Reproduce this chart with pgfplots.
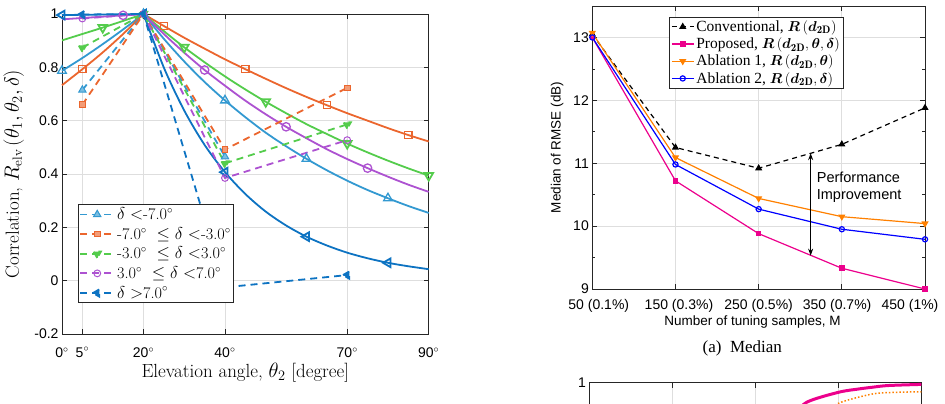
\documentclass[border=0pt]{standalone}
\usepackage{fontspec}
\setsansfont{Liberation Sans}
\newfontfamily\timesfont{Liberation Serif}
\usepackage{bm}
\usepackage{pgfplots}
\pgfplotsset{compat=1.18}
\usetikzlibrary{arrows.meta}

\definecolor{cLB}{rgb}{0.20,0.60,0.82}
\definecolor{cOR}{rgb}{0.92,0.40,0.18}
\definecolor{cGR}{rgb}{0.33,0.80,0.30}
\definecolor{cPU}{rgb}{0.68,0.32,0.82}
\definecolor{cDB}{rgb}{0.05,0.45,0.76}
\definecolor{axgray}{rgb}{0.15,0.15,0.15}
\definecolor{gridgray}{rgb}{0.87,0.87,0.87}
\definecolor{abl1}{rgb}{1,0.5,0}

\pgfplotsset{
  mlab/.style={
    scale only axis,
    axis line style={draw=axgray, line width=0.9bp},
    tick style={draw=axgray, line width=0.7bp},
    major tick length=5bp, minor tick length=3bp,
    tick align=inside, tick pos=both,
    xticklabel pos=lower, yticklabel pos=left,
    grid=major,
    major grid style={draw=gridgray, line width=0.7bp},
    tick label style={font=\fontsize{14bp}{16bp}\selectfont\sffamily},
    /pgf/number format/assume math mode=true,
  },
  % model curves: solid, open markers
  fitc/.style={color=#1, line width=1.8bp, smooth, solid,
    mark options={solid, line width=1.3bp}},
  % measured points: dashed, filled markers
  meas/.style={color=#1, line width=1.8bp, dash pattern=on 7bp off 5bp,
    mark options={solid, line width=1bp, fill=#1!65!white}},
}

\begin{document}
\begin{tikzpicture}[x=1bp,y=1bp]
\path[use as bounding box] (0,0) rectangle (945,403);
\clip (0,0) rectangle (945,403);

% ---------------- correlation vs elevation angle ----------------
\begin{axis}[mlab,
  at={(62bp,389bp)}, anchor=north west,
  width=366.7bp, height=320bp,
  xmin=0, xmax=90, ymin=-0.2, ymax=1,
  xtick={0,5,20,40,70,90},
  xticklabels={0$^\circ$,5$^\circ$,20$^\circ$,40$^\circ$,70$^\circ$,90$^\circ$},
  xticklabel style={yshift=-10bp},
  ytick={-0.2,0,0.2,0.4,0.6,0.8,1},
  yticklabels={-0.2,0,0.2,0.4,0.6,0.8,1},
  clip=false,
  xlabel={Elevation angle, $\theta_2$ [degree]},
  ylabel={Correlation, $R_{\mathrm{elv}}\,(\theta_1,\theta_2,\delta)$},
  label style={font=\fontsize{19bp}{22bp}\selectfont},
  xlabel style={at={(axis description cs:0.5,-0.122)}, anchor=center},
  ylabel style={at={(axis description cs:-0.132,0.5)}, anchor=center},
  legend style={at={(axis description cs:0.0436,0.405)}, anchor=north west,
    draw=axgray, line width=0.7bp, fill=white,
    font=\fontsize{16.2bp}{19bp}\selectfont, cells={anchor=west},
    inner sep=1bp, row sep=2.2bp},
  legend image code/.code={\draw[mark repeat=2,mark phase=2]
    plot coordinates {(0bp,0bp) (17bp,0bp) (34bp,0bp)};},
]
% model curves, below the peak angle
\addplot[fitc=cLB, mark=triangle, mark size=5bp, mark indices={1}, forget plot]
  coordinates {(0,0.787)(5,0.835)(10,0.887)(15,0.942)(20,1)};
\addplot[fitc=cOR, mark=square, mark size=3.6bp, mark indices={2}, forget plot]
  coordinates {(0,0.733)(5,0.793)(10,0.856)(15,0.925)(20,1)};
\addplot[fitc=cGR, mark=triangle, mark size=5bp, mark options={rotate=180}, mark indices={3}, forget plot]
  coordinates {(0,0.901)(5,0.925)(10,0.949)(15,0.974)(20,1)};
\addplot[fitc=cPU, mark=o, mark size=4.2bp, mark indices={4}, forget plot]
  coordinates {(0,0.980)(5,0.985)(10,0.990)(15,0.995)(20,1)};
\addplot[fitc=cDB, mark=triangle, mark size=5bp, mark options={rotate=90}, mark indices={1}, forget plot]
  coordinates {(0,0.996)(5,0.997)(10,0.998)(15,0.999)(20,1)};
% model curves, above the peak angle
\addplot[fitc=cLB, mark=triangle, mark size=5bp, mark indices={1,5,9,13}, forget plot]
  coordinates {(20,1)(25,0.907)(30,0.822)(35,0.745)(40,0.676)(45,0.613)(50,0.555)(55,0.504)
  (60,0.457)(65,0.414)(70,0.375)(75,0.340)(80,0.309)(85,0.280)(90,0.254)};
\addplot[fitc=cOR, mark=square, mark size=3.6bp, mark indices={2,6,10,14}, forget plot]
  coordinates {(20,1)(25,0.955)(30,0.911)(35,0.870)(40,0.830)(45,0.793)(50,0.757)(55,0.722)
  (60,0.689)(65,0.658)(70,0.628)(75,0.600)(80,0.572)(85,0.546)(90,0.522)};
\addplot[fitc=cGR, mark=triangle, mark size=5bp, mark options={rotate=180}, mark indices={3,7,11,15}, forget plot]
  coordinates {(20,1)(25,0.936)(30,0.875)(35,0.819)(40,0.766)(45,0.717)(50,0.671)(55,0.628)
  (60,0.587)(65,0.550)(70,0.514)(75,0.481)(80,0.450)(85,0.421)(90,0.394)};
\addplot[fitc=cPU, mark=o, mark size=4.2bp, mark indices={4,8,12}, forget plot]
  coordinates {(20,1)(25,0.925)(30,0.855)(35,0.790)(40,0.731)(45,0.675)(50,0.624)(55,0.577)
  (60,0.534)(65,0.493)(70,0.456)(75,0.422)(80,0.390)(85,0.360)(90,0.333)};
\addplot[fitc=cDB, mark=triangle, mark size=5bp, mark options={rotate=90}, mark indices={1,5,9,13}, forget plot]
  coordinates {(20,1)(25,0.799)(30,0.638)(35,0.509)(40,0.407)(45,0.325)(50,0.259)(55,0.207)
  (60,0.165)(65,0.132)(70,0.105)(75,0.084)(80,0.067)(85,0.054)(90,0.043)};
% measured correlation
\addplot[meas=cLB, mark=triangle*, mark size=4.2bp]
  coordinates {(5,0.715)(20,1)(40,0.465)};
\addlegendentry{$\delta$ $<$-7.0$^\circ$}
\addplot[meas=cOR, mark=square*, mark size=2.8bp]
  coordinates {(5,0.660)(20,1)(40,0.492)(70,0.723)};
\addlegendentry{-7.0$^\circ$ \ $\leq$ $\delta$ $<$-3.0$^\circ$}
\addplot[meas=cGR, mark=triangle*, mark size=4.2bp, mark options={rotate=180}]
  coordinates {(5,0.874)(20,1)(40,0.440)(70,0.586)};
\addlegendentry{-3.0$^\circ$ \ $\leq$ $\delta$ $<$3.0$^\circ$}
\addplot[meas=cPU, mark=o, mark size=3.4bp]
  coordinates {(5,0.983)(20,1)(40,0.385)(70,0.527)};
\addlegendentry{3.0$^\circ$ \ $\leq$ $\delta$ $<$7.0$^\circ$}
\addplot[meas=cDB, mark=triangle*, mark size=4.2bp, mark options={rotate=90}]
  coordinates {(5,0.998)(20,1)(40,-0.025)(70,0.021)};
\addlegendentry{$\delta$ $>$7.0$^\circ$}
\end{axis}

% ---------------- median RMSE vs tuning samples ----------------
\begin{axis}[mlab,
  at={(592.3bp,397bp)}, anchor=north west,
  width=332.7bp, height=283bp,
  xmin=50, xmax=450, ymin=9, ymax=13.5,
  xtick={50,150,250,350,450},
  xticklabels={\hspace*{13bp}50 (0.1\%),\hspace*{7bp}150 (0.3\%),250 (0.5\%),
    350 (0.7\%)\hspace*{9.4bp},450 (1\%)\hspace*{30bp}},
  xticklabel style={yshift=-6.5bp},
  ytick={9,10,11,12,13}, yticklabels={9,10,11,12,13},
  minor ytick={9.5,10.5,11.5,12.5},
  clip=false,
  xlabel={Number of tuning samples, M},
  ylabel={Median of RMSE (dB)},
  label style={font=\fontsize{13.5bp}{16bp}\selectfont\sffamily},
  xlabel style={at={(axis description cs:0.4815,-0.1155)}, anchor=center},
  ylabel style={at={(axis description cs:-0.106,0.5)}, anchor=center},
  legend style={at={(axis description cs:0.2314,0.962)}, anchor=north west,
    draw=axgray, line width=0.7bp, fill=white,
    font=\fontsize{15.5bp}{17bp}\timesfont, cells={anchor=west},
    inner sep=1.5bp, row sep=1bp},
  legend image code/.code={\draw[mark repeat=2,mark phase=2]
    plot coordinates {(0bp,0bp) (11bp,0bp) (22bp,0bp)};},
]
\addplot[black, line width=1.2bp, dash pattern=on 5bp off 4bp, mark=triangle*, mark size=3bp, mark options={solid}]
  coordinates {(50,13.05)(150,11.25)(250,10.92)(350,11.30)(450,11.88)};
\addlegendentry{Conventional, $\bm{R}\,(\bm{d}_{\mathbf{2D}})$}
\addplot[magenta, line width=1.2bp, mark=square*, mark size=2.2bp]
  coordinates {(50,13.0)(150,10.72)(250,9.88)(350,9.33)(450,9.0)};
\addlegendentry{Proposed, $\bm{R}\,(\bm{d}_{\mathbf{2D}},\bm{\theta},\bm{\delta})$}
\addplot[abl1, line width=1.2bp, mark=triangle*, mark size=3bp, mark options={rotate=180}]
  coordinates {(50,13.07)(150,11.09)(250,10.44)(350,10.15)(450,10.04)};
\addlegendentry{Ablation 1, $\bm{R}\,(\bm{d}_{\mathbf{2D}},\bm{\theta})$}
\addplot[blue, line width=1.2bp, mark=o, mark size=2.6bp]
  coordinates {(50,13.0)(150,10.98)(250,10.27)(350,9.95)(450,9.79)};
\addlegendentry{Ablation 2, $\bm{R}\,(\bm{d}_{\mathbf{2D}},\bm{\delta})$}
\draw[{Stealth[length=7bp,width=5bp]}-{Stealth[length=7bp,width=5bp]}, line width=1.2bp]
  (axis cs:312.5,9.53) -- (axis cs:312.5,11.16);
\node[anchor=west, align=left, inner sep=0pt,
  font=\fontsize{14.5bp}{17bp}\selectfont\sffamily] at (axis cs:319.7,10.625)
  {Performance\\Improvement};
\end{axis}

\node[font=\fontsize{17bp}{20bp}\timesfont] at (742.3,54.7) {(a)\ \ Median};

% ---------------- next panel (top edge) ----------------
\begin{axis}[mlab,
  at={(589.3bp,20.3bp)}, anchor=north west,
  width=332bp, height=283bp,
  xmin=0, xmax=4, ymin=0, ymax=1,
  xtick={0,1,2,3,4}, xticklabels={},
  ytick={0,0.2,0.4,0.6,0.8,1}, yticklabels={,,,,,1},
]
\addplot[magenta, line width=3bp, smooth]
  coordinates {(2.45,0.88)(2.62,0.931)(3.0,0.966)(3.25,0.978)(3.41,0.984)(3.6,0.99)(4,0.994)};
\addplot[abl1, line width=1.5bp, dotted, smooth]
  coordinates {(2.8,0.88)(3.0,0.927)(3.41,0.960)(3.7,0.966)(4,0.968)};
\end{axis}
\end{tikzpicture}
\end{document}
